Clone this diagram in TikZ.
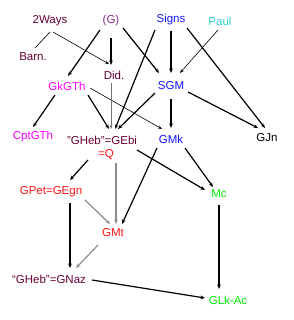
\documentclass[tikz,border=0pt]{standalone}
\usepackage{fontspec}
\setmainfont{Liberation Sans}
\usetikzlibrary{arrows.meta}

\definecolor{maroon}{RGB}{102,0,51}
\definecolor{plum}{RGB}{140,40,140}
\definecolor{signblue}{RGB}{20,20,255}
\definecolor{paulcyan}{RGB}{51,204,204}
\definecolor{gkpink}{RGB}{255,0,255}
\definecolor{petred}{RGB}{255,20,20}
\definecolor{mcgreen}{RGB}{0,235,0}

\tikzset{
  lbl/.style={font=\fontsize{11.5}{13}\selectfont, inner sep=3pt},
  heavy/.style={-{Stealth[length=4.5pt,width=3.6pt]}, line width=1.2pt},
  light/.style={-{Stealth[length=4pt,width=3pt]}, line width=0.6pt},
  greyed/.style={heavy, draw=black!45, -{Stealth[length=4.5pt,width=3.6pt,black!45]}},
}

\begin{document}
\begin{tikzpicture}[x=1pt, y=-1pt]

    %% =========================================================
    %% canvas, 293 x 320, y grows downward
    %% =========================================================
    \useasboundingbox (0,0) rectangle (293,320);

    %% TOP ROW
    \node[lbl, text=maroon]    (ways)  at (50,21)  {2Ways};
    \node[lbl, text=plum]      (g)     at (111,21) {(G)};
    \node[lbl, text=signblue]  (signs) at (171,20) {Signs};
    \node[lbl, text=paulcyan]  (paul)  at (220,21) {Paul};

    %% SECOND ROW
    \node[lbl, text=maroon]    (barn)  at (33,57)  {Barn.};
    \node[lbl, text=maroon]    (did)   at (114,75) {Did.};
    \node[lbl, text=gkpink]    (gkgth) at (67,86)  {GkGTh};
    \node[lbl, text=signblue]  (sgm)   at (171,86) {SGM};

    %% MIDDLE
    \node[lbl, text=gkpink]    (cptgth) at (33,137) {CptGTh};
    \node[lbl, text=maroon, align=center] (gebi) at (102,148)
      {"GHeb"=GEbi\\\textcolor{petred}{\hspace*{8pt}=Q}};
    \node[lbl, text=signblue]  (gmk)   at (171,139) {GMk};
    \node[lbl]                 (gjn)   at (267,138) {GJn};

    %% LOWER
    \node[lbl, text=petred]    (gpet)  at (51,192)  {GPet=GEgn};
    \node[lbl, text=mcgreen]   (mc)    at (219,194) {Mc};
    \node[lbl, text=petred]    (gmt)   at (113,233) {GMt};
    \node[lbl, text=maroon]    (gnaz)  at (49,279)  {“GHeb”=GNaz};
    \node[lbl, text=mcgreen]   (glk)   at (228,300) {GLk-Ac};

    %% ARROWS, top part (end points as offsets from the node centres)
    \draw[line width=0.6pt] ([shift={(0,11)}]ways.center) -- ([shift={(2,-9)}]barn.center);
    \draw[light] ([shift={(3,11)}]ways.center) -- ([shift={(-5,-11)}]did.center);
    \draw[heavy] ([shift={(-11,9)}]g.center) -- ([shift={(1,-10)}]gkgth.center);
    \draw[heavy] ([shift={(0,17)}]g.center) -- ([shift={(-3,-10)}]did.center);
    \draw[heavy] ([shift={(12,7)}]g.center) -- ([shift={(-12,-13)}]sgm.center);
    \draw[heavy] ([shift={(0,11)}]signs.center) -- ([shift={(0,-13)}]sgm.center);
    \draw[heavy] ([shift={(-16,10)}]signs.center) -- ([shift={(13,-19)}]gebi.center);
    \draw[heavy] ([shift={(16,8)}]signs.center) -- ([shift={(-2,-10)}]gjn.center);
    \draw[light] ([shift={(-2,9)}]paul.center) -- ([shift={(9,-13)}]sgm.center);

    %% ARROWS, middle part
    \draw[heavy] ([shift={(-12,9)}]gkgth.center) -- ([shift={(0,-10)}]cptgth.center);
    \draw[heavy] ([shift={(21,9)}]gkgth.center) -- ([shift={(7,-19)}]gebi.center);
    \draw[light] ([shift={(23,2)}]gkgth.center) -- ([shift={(-9,-10)}]gmk.center);
    \draw[light, draw=black!55] ([shift={(-3,8)}]did.center) -- ([shift={(9,-19)}]gebi.center);
    \draw[heavy] ([shift={(-16,7)}]sgm.center) -- ([shift={(16,-19)}]gebi.center);
    \draw[heavy] ([shift={(0,13)}]sgm.center) -- ([shift={(0,-11)}]gmk.center);
    \draw[heavy] ([shift={(17,6)}]sgm.center) -- ([shift={(-9,-10)}]gjn.center);
    \draw[heavy] ([shift={(14,9)}]gmk.center) -- ([shift={(-6,-7)}]mc.center);
    \draw[heavy] ([shift={(-14,9)}]gmk.center) -- ([shift={(9,-9)}]gmt.center);
    \draw[heavy] ([shift={(35,2)}]gebi.center) -- ([shift={(-14,-4)}]mc.center);
    \draw[heavy] ([shift={(-14,12)}]gebi.center) -- ([shift={(19,-12)}]gpet.center);

    %% ARROWS, lower part
    \draw[greyed] ([shift={(14,15)}]gebi.center) -- ([shift={(3,-9)}]gmt.center);
    \draw[greyed] ([shift={(34,8)}]gpet.center) -- ([shift={(-3,-9)}]gmt.center);
    \draw[heavy] ([shift={(19,11)}]gpet.center) -- ([shift={(21,-11)}]gnaz.center);
    \draw[greyed] ([shift={(-15,12)}]gmt.center) -- ([shift={(27,-11)}]gnaz.center);
    \draw[heavy] ([shift={(43,1)}]gnaz.center) -- ([shift={(-23,-2)}]glk.center);
    \draw[heavy] ([shift={(0,11)}]mc.center) -- ([shift={(-9,-11)}]glk.center);

\end{tikzpicture}
\end{document}
